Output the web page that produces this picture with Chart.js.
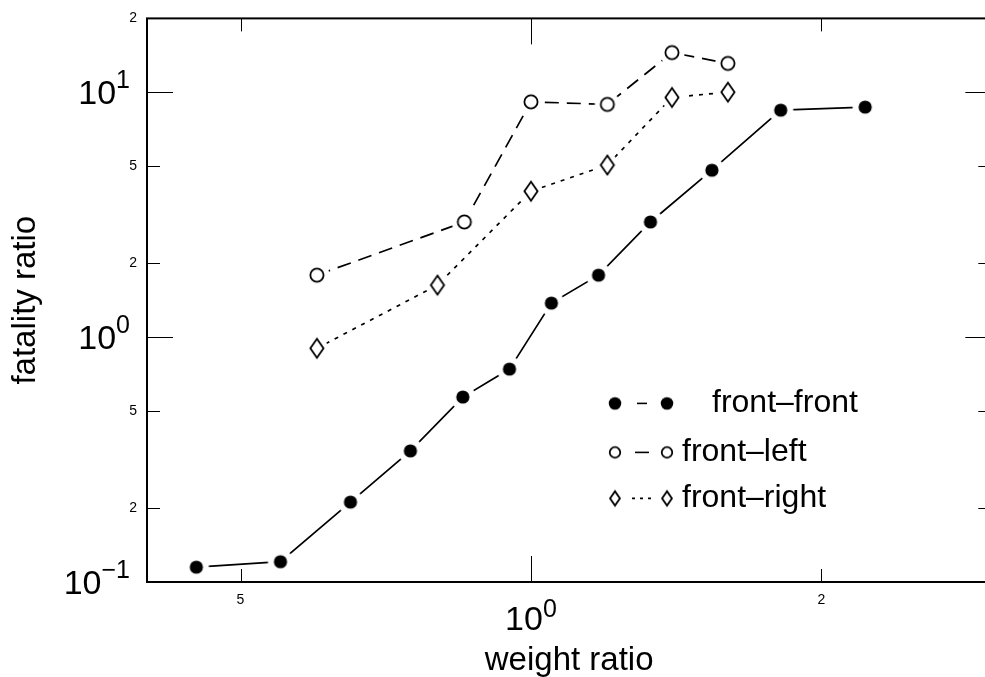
<!DOCTYPE html>
<html>
<head>
<meta charset="utf-8">
<script src="https://cdn.jsdelivr.net/npm/chart.js@4.4.1/dist/chart.umd.min.js"></script>
<style>
  html, body { margin: 0; padding: 0; background: #fff; overflow: hidden; }
  #wrap { width: 1000px; height: 677px; }
</style>
</head>
<body>
<div id="wrap"><canvas id="c" width="1000" height="677"></canvas></div>
<script>
// weight ratio (x) vs fatality ratio (y)
const ffX = [0.45, 0.55, 0.65, 0.75, 0.85, 0.95, 1.05, 1.175, 1.33, 1.54, 1.815, 2.22];
const ffY = [0.115, 0.121, 0.212, 0.343, 0.569, 0.74, 1.376, 1.79, 2.95, 4.8, 8.44, 8.69];
const flX = [0.6, 0.853, 1.0, 1.2, 1.4, 1.6];
const flY = [1.79, 2.95, 9.13, 8.91, 14.5, 13.1];
const frX = [0.6, 0.8, 1.0, 1.2, 1.4, 1.6];
const frY = [0.9, 1.63, 3.94, 5.04, 9.51, 10.0];

const seriesLabels = ['front–front', 'front–left', 'front–right'];

// tick positions + labels ('10^n' = decade label with superscript, else the mantissa)
const xTicks = [0.5, 1, 2];
const xTickLabels = ['5', '10^0', '2'];
const yTicks = [0.1, 0.2, 0.5, 1, 2, 5, 10, 20];
const yTickLabels = ['10^-1', '2', '5', '10^0', '2', '5', '10^1', '2'];

const FONT = "'Liberation Sans', Arial, Helvetica, sans-serif";

const isDecade = (v) => {
  const l = Math.log10(v);
  return Math.abs(l - Math.round(l)) < 1e-9;
};
const splitPow = (s) => {
  const [base, e] = s.split('^');
  return { base, exp: e.replace('-', '−') };
};

// marker images: white halo so the line stops short of the symbol
function makeMarker(kind, halo, k) {
  const c = document.createElement('canvas');
  c.width = c.height = 36;
  const g = c.getContext('2d');
  const m = 18;
  const r = 6.6 * k;
  const dw = 6.6 * k, dh = 9.5 * k;
  const diamond = () => {
    g.beginPath();
    g.moveTo(m, m - dh); g.lineTo(m + dw, m); g.lineTo(m, m + dh); g.lineTo(m - dw, m);
    g.closePath();
  };
  if (halo) {
    g.fillStyle = '#fff';
    g.strokeStyle = '#fff';
    if (kind === 'diamond') {
      diamond(); g.lineWidth = 11; g.fill(); g.stroke();
    } else {
      g.beginPath(); g.arc(m, m, r + 6, 0, Math.PI * 2); g.fill();
    }
  }
  g.lineWidth = 1.8;
  g.strokeStyle = '#000';
  if (kind === 'dot') {
    g.fillStyle = '#000';
    g.beginPath(); g.arc(m, m, r, 0, Math.PI * 2); g.fill();
  } else if (kind === 'circle') {
    g.fillStyle = '#fff';
    g.beginPath(); g.arc(m, m, r, 0, Math.PI * 2); g.fill(); g.stroke();
  } else {
    g.fillStyle = '#fff';
    diamond(); g.fill(); g.stroke();
  }
  return c;
}

const markerKinds = ['dot', 'circle', 'diamond'];
const plotMarkers = markerKinds.map((k) => makeMarker(k, true, 1));
const legendMarkers = [makeMarker('dot', false, 0.95), makeMarker('circle', false, 0.8), makeMarker('diamond', false, 0.75)];
const dashes = [[], [14, 8], [4, 6]];

const toPoints = (xs, ys) => xs.map((x, i) => ({ x, y: ys[i] }));

const mkDataset = (i, xs, ys) => ({
  label: seriesLabels[i],
  data: toPoints(xs, ys),
  borderColor: '#000',
  borderWidth: 1.7,
  borderDash: dashes[i],
  pointStyle: plotMarkers[i],
  pointRadius: 7,
  pointHoverRadius: 7,
  fill: false,
  tension: 0,
});

// inward ticks on all four sides + the box
const frameTicks = {
  id: 'frameTicks',
  afterDatasetsDraw(chart) {
    const { ctx, chartArea: a, scales: { x, y } } = chart;
    const len = (v) => (isDecade(v) ? 26 : 13);
    ctx.save();
    ctx.strokeStyle = '#000';
    ctx.lineWidth = 1;
    x.ticks.forEach((t) => {
      const px = Math.round(x.getPixelForValue(t.value)) + 0.5;
      ctx.beginPath();
      ctx.moveTo(px, a.bottom); ctx.lineTo(px, a.bottom - len(t.value));
      ctx.moveTo(px, a.top); ctx.lineTo(px, a.top + len(t.value));
      ctx.stroke();
    });
    y.ticks.forEach((t) => {
      const py = Math.round(y.getPixelForValue(t.value)) + 0.5;
      ctx.beginPath();
      ctx.moveTo(a.left, py); ctx.lineTo(a.left + len(t.value), py);
      ctx.moveTo(a.right, py); ctx.lineTo(a.right - len(t.value), py);
      ctx.stroke();
    });
    ctx.lineWidth = 2;
    ctx.strokeRect(a.left, a.top, a.right - a.left, a.bottom - a.top);
    ctx.restore();
  },
};

// decade tick labels: "10" with a raised exponent
const decadeLabels = {
  id: 'decadeLabels',
  afterDraw(chart) {
    const { ctx, chartArea: a, scales: { x, y } } = chart;
    const big = `34px ${FONT}`, sup = `25px ${FONT}`;
    ctx.save();
    ctx.fillStyle = '#000';
    ctx.textBaseline = 'alphabetic';
    y.ticks.forEach((t, i) => {
      if (!yTickLabels[i].includes('^')) return;
      const { base, exp } = splitPow(yTickLabels[i]);
      const py = y.getPixelForValue(t.value);
      const xr = a.left - 17;
      ctx.font = sup;
      const ew = ctx.measureText(exp).width;
      ctx.textAlign = 'right';
      ctx.fillText(exp, xr, py - 4);
      ctx.font = big;
      ctx.fillText(base, xr - ew, py + 12);
    });
    x.ticks.forEach((t, i) => {
      if (!xTickLabels[i].includes('^')) return;
      const { base, exp } = splitPow(xTickLabels[i]);
      const px = x.getPixelForValue(t.value);
      ctx.font = big;
      const bw = ctx.measureText(base).width;
      ctx.font = sup;
      const ew = ctx.measureText(exp).width;
      const x0 = px - (bw + ew) / 2;
      ctx.textAlign = 'left';
      ctx.fillText(exp, x0 + bw, a.bottom + 35);
      ctx.font = big;
      ctx.fillText(base, x0, a.bottom + 48);
    });
    ctx.restore();
  },
};

// legend inside the axes, lower right
const boxLegend = {
  id: 'boxLegend',
  afterDraw(chart) {
    const { ctx, chartArea: a } = chart;
    const rows = [385, 434, 480];
    const textX = [565, 535, 535];
    const mx = a.left + 468;
    const gapX = 52;
    const inset = [22, 20, 17];
    ctx.save();
    chart.data.datasets.forEach((ds, i) => {
      const yy = a.top + rows[i];
      const img = legendMarkers[i];
      ctx.drawImage(img, mx - img.width / 2, yy - img.height / 2);
      ctx.drawImage(img, mx + gapX - img.width / 2, yy - img.height / 2);
      ctx.strokeStyle = '#000';
      ctx.lineWidth = 1.6;
      ctx.setLineDash(i === 2 ? [3, 5] : dashes[i]);
      ctx.beginPath();
      ctx.moveTo(mx + inset[i], yy);
      ctx.lineTo(mx + gapX - inset[i] + 2, yy);
      ctx.stroke();
      ctx.setLineDash([]);
      ctx.fillStyle = '#000';
      ctx.font = `32px ${FONT}`;
      ctx.textBaseline = 'middle';
      ctx.textAlign = 'left';
      ctx.fillText(ds.label, a.left + textX[i], yy);
    });
    ctx.restore();
  },
};

const tickFont = { family: FONT, size: 14 };
const plainLabel = (labels) => (v, i) => (labels[i].includes('^') ? '' : labels[i]);

new Chart(document.getElementById('c'), {
  type: 'line',
  data: {
    datasets: [
      mkDataset(0, ffX, ffY),
      mkDataset(1, flX, flY),
      mkDataset(2, frX, frY),
    ],
  },
  options: {
    responsive: false,
    animation: false,
    events: [],
    layout: { padding: { top: 18, right: 5, bottom: 0, left: 0 } },
    plugins: {
      legend: { display: false },
      tooltip: { enabled: false },
    },
    scales: {
      x: {
        type: 'logarithmic',
        min: 0.4,
        max: 3,
        afterBuildTicks: (s) => { s.ticks = xTicks.map((v) => ({ value: v })); },
        afterFit: (s) => { s.height = 95; },
        grid: { display: false, drawTicks: false },
        border: { display: false },
        ticks: {
          padding: 10,
          color: '#000',
          font: tickFont,
          autoSkip: false,
          maxRotation: 0,
          callback: plainLabel(xTickLabels),
        },
        title: {
          display: true,
          text: 'weight ratio',
          color: '#000',
          font: { family: FONT, size: 33, lineHeight: 1 },
          padding: { top: 0, bottom: 0 },
        },
      },
      y: {
        type: 'logarithmic',
        min: 0.1,
        max: 20,
        afterBuildTicks: (s) => { s.ticks = yTicks.map((v) => ({ value: v })); },
        afterFit: (s) => { s.width = 147; },
        grid: { display: false, drawTicks: false },
        border: { display: false },
        ticks: {
          padding: 10,
          color: '#000',
          font: tickFont,
          autoSkip: false,
          callback: plainLabel(yTickLabels),
        },
        title: {
          display: true,
          text: 'fatality ratio',
          color: '#000',
          font: { family: FONT, size: 33, lineHeight: 1 },
          padding: { top: 9, bottom: 0 },
        },
      },
    },
  },
  plugins: [frameTicks, decadeLabels, boxLegend],
});
</script>
</body>
</html>
